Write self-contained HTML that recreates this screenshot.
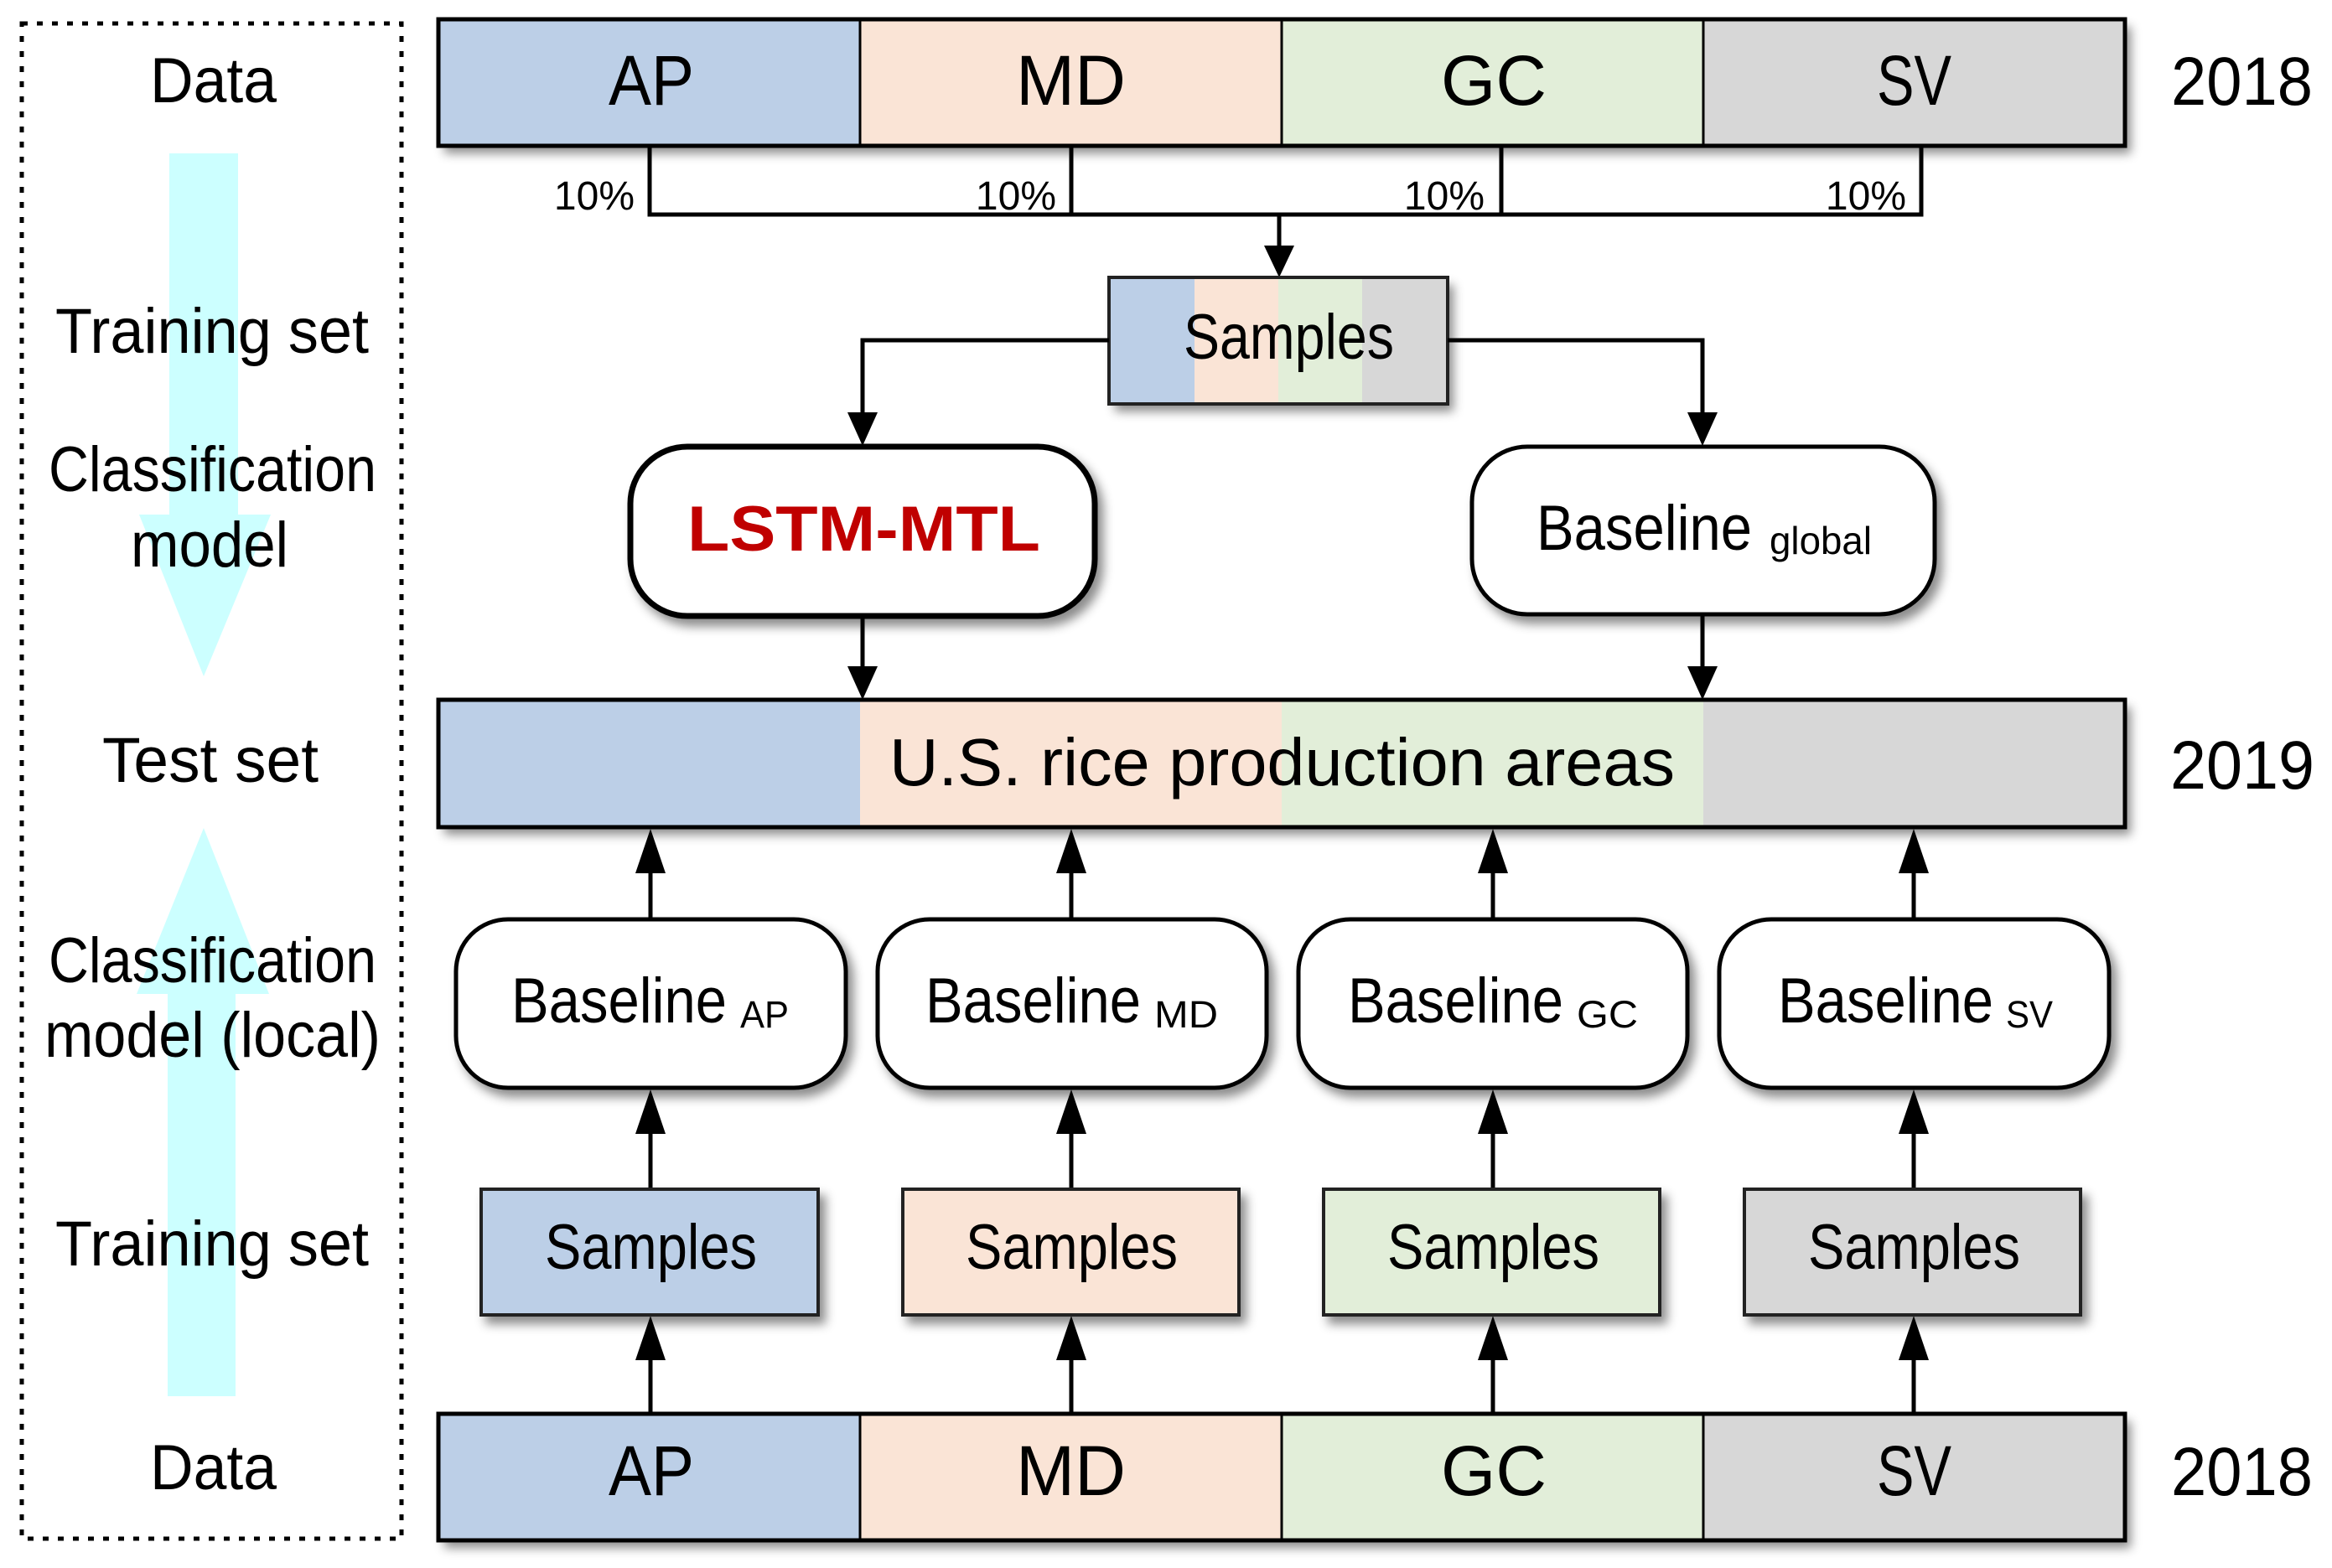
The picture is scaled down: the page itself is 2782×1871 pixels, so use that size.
<!DOCTYPE html>
<html><head><meta charset="utf-8"><style>
html,body{margin:0;padding:0;background:#fff;}
svg{display:block;}
text{font-family:"Liberation Sans",sans-serif;fill:#000;}
</style></head><body>
<svg width="2782" height="1871" viewBox="0 0 2782 1871" xmlns="http://www.w3.org/2000/svg">
<defs>
<filter id="sh" x="-10%" y="-20%" width="130%" height="160%">
<feDropShadow dx="7" dy="9" stdDeviation="6" flood-color="#000" flood-opacity="0.45"/>
</filter>
</defs>

<!-- cyan arrows -->
<polygon points="202,183 284,183 284,614 323,614 243,807 166,614 202,614" fill="#ccffff"/>
<polygon points="243,988 321,1186 281,1186 281,1666 200,1666 200,1186 163,1186" fill="#ccffff"/>

<!-- dotted box -->
<rect x="26" y="28" width="453" height="1808" fill="none" stroke="#000" stroke-width="5" stroke-dasharray="7 11"/>

<!-- left labels -->
<g font-size="76">
<text x="179" y="122" textLength="151" lengthAdjust="spacingAndGlyphs">Data</text>
<text x="66" y="421" textLength="374" lengthAdjust="spacingAndGlyphs">Training set</text>
<text x="58" y="586" textLength="391" lengthAdjust="spacingAndGlyphs">Classification</text>
<text x="156" y="676" textLength="188" lengthAdjust="spacingAndGlyphs">model</text>
<text x="122" y="933" textLength="258" lengthAdjust="spacingAndGlyphs">Test set</text>
<text x="58" y="1172" textLength="391" lengthAdjust="spacingAndGlyphs">Classification</text>
<text x="53" y="1261" textLength="401" lengthAdjust="spacingAndGlyphs">model (local)</text>
<text x="66" y="1510" textLength="374" lengthAdjust="spacingAndGlyphs">Training set</text>
<text x="179" y="1777" textLength="151" lengthAdjust="spacingAndGlyphs">Data</text>
</g>

<!-- top bar -->
<g filter="url(#sh)">
<rect x="523" y="23" width="2012" height="151" fill="#fff"/>
</g>
<rect x="523" y="23" width="503" height="151" fill="#bccfe7"/>
<rect x="1026" y="23" width="503" height="151" fill="#fae4d6"/>
<rect x="1529" y="23" width="503" height="151" fill="#e2eed9"/>
<rect x="2032" y="23" width="503" height="151" fill="#d7d7d7"/>
<g stroke="#000" stroke-width="3"><line x1="1026" y1="23" x2="1026" y2="174"/><line x1="1529" y1="23" x2="1529" y2="174"/><line x1="2032" y1="23" x2="2032" y2="174"/></g>
<rect x="523" y="23" width="2012" height="151" fill="none" stroke="#000" stroke-width="5"/>
<g font-size="84">
<text x="726" y="125" textLength="102" lengthAdjust="spacingAndGlyphs">AP</text>
<text x="1212" y="125" textLength="131" lengthAdjust="spacingAndGlyphs">MD</text>
<text x="1719" y="125" textLength="126" lengthAdjust="spacingAndGlyphs">GC</text>
<text x="2239" y="125" textLength="89" lengthAdjust="spacingAndGlyphs">SV</text>
</g>
<text x="2590" y="125" font-size="82" textLength="169" lengthAdjust="spacingAndGlyphs">2018</text>

<!-- 10% connectors -->
<g stroke="#000" stroke-width="5" fill="none">
<polyline points="775,174 775,256 2292,256 2292,174"/>
<line x1="1278" y1="174" x2="1278" y2="256"/>
<line x1="1791" y1="174" x2="1791" y2="256"/>
<line x1="1526" y1="256" x2="1526" y2="300"/>
</g>
<polygon points="1508,293 1544,293 1526,331" fill="#000"/>
<g font-size="48">
<text x="757" y="250" text-anchor="end">10%</text>
<text x="1260" y="250" text-anchor="end">10%</text>
<text x="1771" y="250" text-anchor="end">10%</text>
<text x="2274" y="250" text-anchor="end">10%</text>
</g>

<!-- top samples -->
<g filter="url(#sh)"><rect x="1323" y="331" width="404" height="151" fill="#fff"/></g>
<rect x="1323" y="331" width="102" height="151" fill="#bccfe7"/>
<rect x="1425" y="331" width="100" height="151" fill="#fae4d6"/>
<rect x="1525" y="331" width="100" height="151" fill="#e2eed9"/>
<rect x="1625" y="331" width="102" height="151" fill="#d7d7d7"/>
<rect x="1323" y="331" width="404" height="151" fill="none" stroke="#222" stroke-width="4"/>
<text x="1412" y="428" font-size="76" textLength="251" lengthAdjust="spacingAndGlyphs">Samples</text>

<!-- connectors to LSTM / global -->
<g stroke="#000" stroke-width="5" fill="none">
<polyline points="1323,406 1029,406 1029,500"/>
<polyline points="1727,406 2031,406 2031,500"/>
<line x1="1029" y1="737" x2="1029" y2="800"/>
<line x1="2031" y1="733" x2="2031" y2="800"/>
</g>
<polygon points="1011,492 1047,492 1029,532" fill="#000"/>
<polygon points="2013,492 2049,492 2031,532" fill="#000"/>
<polygon points="1011,795 1047,795 1029,835" fill="#000"/>
<polygon points="2013,795 2049,795 2031,835" fill="#000"/>

<!-- LSTM-MTL -->
<g filter="url(#sh)"><rect x="752" y="533" width="554" height="202" rx="68" fill="#fff" stroke="#000" stroke-width="7"/></g>
<text x="820" y="657" font-size="76" font-weight="bold" fill="#c00000" style="fill:#c00000" textLength="421" lengthAdjust="spacingAndGlyphs">LSTM-MTL</text>

<!-- Baseline global -->
<g filter="url(#sh)"><rect x="1756" y="533" width="552" height="200" rx="66" fill="#fff" stroke="#000" stroke-width="5"/></g>
<text x="1833" y="656" font-size="76" textLength="257" lengthAdjust="spacingAndGlyphs">Baseline</text>
<text x="2111" y="661" font-size="46" textLength="122" lengthAdjust="spacingAndGlyphs">global</text>

<!-- test bar -->
<g filter="url(#sh)"><rect x="523" y="835" width="2012" height="152" fill="#fff"/></g>
<rect x="523" y="835" width="503" height="152" fill="#bccfe7"/>
<rect x="1026" y="835" width="503" height="152" fill="#fae4d6"/>
<rect x="1529" y="835" width="503" height="152" fill="#e2eed9"/>
<rect x="2032" y="835" width="503" height="152" fill="#d7d7d7"/>
<rect x="523" y="835" width="2012" height="152" fill="none" stroke="#000" stroke-width="5"/>
<text x="1061" y="937" font-size="80" textLength="937" lengthAdjust="spacingAndGlyphs">U.S. rice production areas</text>
<text x="2589" y="941" font-size="82" textLength="172" lengthAdjust="spacingAndGlyphs">2019</text>

<!-- local columns -->
<g id="cols">
<!-- arrows -->
<g stroke="#000" stroke-width="5">
<line x1="776" y1="1020" x2="776" y2="1096"/><line x1="776" y1="1335" x2="776" y2="1418"/><line x1="776" y1="1605" x2="776" y2="1687"/>
<line x1="1278" y1="1020" x2="1278" y2="1096"/><line x1="1278" y1="1335" x2="1278" y2="1418"/><line x1="1278" y1="1605" x2="1278" y2="1687"/>
<line x1="1781" y1="1020" x2="1781" y2="1096"/><line x1="1781" y1="1335" x2="1781" y2="1418"/><line x1="1781" y1="1605" x2="1781" y2="1687"/>
<line x1="2283" y1="1020" x2="2283" y2="1096"/><line x1="2283" y1="1335" x2="2283" y2="1418"/><line x1="2283" y1="1605" x2="2283" y2="1687"/>
</g>
<g fill="#000">
<polygon points="776,989 758,1042 794,1042"/><polygon points="776,1300 758,1353 794,1353"/><polygon points="776,1570 758,1623 794,1623"/>
<polygon points="1278,989 1260,1042 1296,1042"/><polygon points="1278,1300 1260,1353 1296,1353"/><polygon points="1278,1570 1260,1623 1296,1623"/>
<polygon points="1781,989 1763,1042 1799,1042"/><polygon points="1781,1300 1763,1353 1799,1353"/><polygon points="1781,1570 1763,1623 1799,1623"/>
<polygon points="2283,989 2265,1042 2301,1042"/><polygon points="2283,1300 2265,1353 2301,1353"/><polygon points="2283,1570 2265,1623 2301,1623"/>
</g>
<!-- baseline local boxes -->
<g filter="url(#sh)" fill="#fff" stroke="#000" stroke-width="5">
<rect x="544" y="1097" width="465" height="201" rx="62"/>
<rect x="1047" y="1097" width="464" height="201" rx="62"/>
<rect x="1549" y="1097" width="464" height="201" rx="62"/>
<rect x="2051" y="1097" width="465" height="201" rx="62"/>
</g>
<g font-size="76">
<text x="610" y="1220" textLength="257" lengthAdjust="spacingAndGlyphs">Baseline</text>
<text x="1104" y="1220" textLength="257" lengthAdjust="spacingAndGlyphs">Baseline</text>
<text x="1608" y="1220" textLength="257" lengthAdjust="spacingAndGlyphs">Baseline</text>
<text x="2121" y="1220" textLength="257" lengthAdjust="spacingAndGlyphs">Baseline</text>
</g>
<g font-size="45">
<text x="883" y="1226" textLength="58" lengthAdjust="spacingAndGlyphs">AP</text>
<text x="1377" y="1226" textLength="76" lengthAdjust="spacingAndGlyphs">MD</text>
<text x="1881" y="1226" textLength="73" lengthAdjust="spacingAndGlyphs">GC</text>
<text x="2393" y="1226" textLength="56" lengthAdjust="spacingAndGlyphs">SV</text>
</g>
<!-- local samples -->
<g filter="url(#sh)" stroke="#222" stroke-width="4">
<rect x="574" y="1419" width="402" height="150" fill="#bccfe7"/>
<rect x="1077" y="1419" width="401" height="150" fill="#fae4d6"/>
<rect x="1579" y="1419" width="401" height="150" fill="#e2eed9"/>
<rect x="2081" y="1419" width="401" height="150" fill="#d7d7d7"/>
</g>
<g font-size="76">
<text x="650" y="1514" textLength="253" lengthAdjust="spacingAndGlyphs">Samples</text>
<text x="1152" y="1514" textLength="253" lengthAdjust="spacingAndGlyphs">Samples</text>
<text x="1655" y="1514" textLength="253" lengthAdjust="spacingAndGlyphs">Samples</text>
<text x="2157" y="1514" textLength="253" lengthAdjust="spacingAndGlyphs">Samples</text>
</g>
</g>

<!-- bottom bar -->
<g filter="url(#sh)"><rect x="523" y="1687" width="2012" height="151" fill="#fff"/></g>
<rect x="523" y="1687" width="503" height="151" fill="#bccfe7"/>
<rect x="1026" y="1687" width="503" height="151" fill="#fae4d6"/>
<rect x="1529" y="1687" width="503" height="151" fill="#e2eed9"/>
<rect x="2032" y="1687" width="503" height="151" fill="#d7d7d7"/>
<g stroke="#000" stroke-width="3"><line x1="1026" y1="1687" x2="1026" y2="1838"/><line x1="1529" y1="1687" x2="1529" y2="1838"/><line x1="2032" y1="1687" x2="2032" y2="1838"/></g>
<rect x="523" y="1687" width="2012" height="151" fill="none" stroke="#000" stroke-width="5"/>
<g font-size="84">
<text x="726" y="1784" textLength="102" lengthAdjust="spacingAndGlyphs">AP</text>
<text x="1212" y="1784" textLength="131" lengthAdjust="spacingAndGlyphs">MD</text>
<text x="1719" y="1784" textLength="126" lengthAdjust="spacingAndGlyphs">GC</text>
<text x="2239" y="1784" textLength="89" lengthAdjust="spacingAndGlyphs">SV</text>
</g>
<text x="2590" y="1784" font-size="82" textLength="169" lengthAdjust="spacingAndGlyphs">2018</text>
</svg>
</body></html>
